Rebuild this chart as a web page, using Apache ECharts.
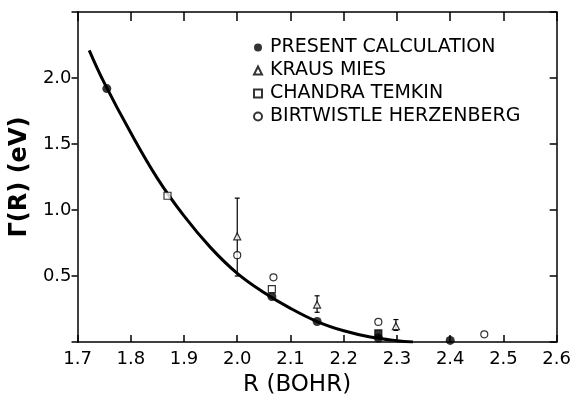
<!DOCTYPE html>
<html>
<head>
<meta charset="utf-8">
<script src="https://cdn.jsdelivr.net/npm/echarts@6/dist/echarts.min.js"></script>
<style>
  html, body { margin: 0; padding: 0; background: #fff; }
  #chart { width: 574px; height: 402px; }
</style>
</head>
<body>
<div id="chart"></div>
<script>
  // tick labels
  var xTickLabels = ['1.7', '1.8', '1.9', '2.0', '2.1', '2.2', '2.3', '2.4', '2.5', '2.6']
  var yTickLabels = ['0.5', '1.0', '1.5', '2.0']

  // data: [R, Gamma]
  var presentCalc = [[1.755, 1.92], [2.065, 0.345], [2.15, 0.155], [2.265, 0.03], [2.40, 0.012]]
  var krausMies = [[2.0, 0.80], [2.15, 0.283], [2.298, 0.12]]
  // error bars for Kraus Mies: [R, low, high]
  var krausErr = [[2.0, 0.50, 1.09], [2.15, 0.225, 0.35], [2.298, 0.088, 0.17]]
  var chandraTemkin = [[1.869, 1.108], [2.065, 0.40], [2.265, 0.065]]
  var birtwistle = [[2.0, 0.658], [2.068, 0.49], [2.265, 0.152], [2.464, 0.058]]
  // fitted curve
  var curve = [[1.722, 2.21], [1.75, 1.965], [1.80, 1.585], [1.85, 1.24], [1.90, 0.955],
    [1.95, 0.715], [2.00, 0.52], [2.05, 0.375], [2.10, 0.255], [2.15, 0.155],
    [2.20, 0.085], [2.25, 0.038], [2.30, 0.01], [2.33, 0.0]]

  var font = 'DejaVu Sans'
  var black = '#000'

  var chart = echarts.init(document.getElementById('chart'))

  // hollow marker style
  var hollow = { color: '#fff', borderColor: black, borderWidth: 1.2 }

  var sqData = chandraTemkin.map(function (p, i) {
    // the last square is drawn filled in the original
    if (i === chandraTemkin.length - 1) {
      return { value: p, itemStyle: { color: black, borderColor: black } }
    }
    return p
  })

  function frameLine () {
    return { show: true, onZero: false, lineStyle: { color: black, width: 1.5 } }
  }
  function ticks (inside, length) {
    return { show: true, inside: inside, length: length, lineStyle: { color: black, width: 1.5 } }
  }
  function noLabel () {
    return { show: true, formatter: function () { return '' } }
  }

  chart.setOption({
    backgroundColor: '#fff',
    animation: false,
    textStyle: { fontFamily: font, color: black },
    grid: { left: 76, right: 16, top: 12, bottom: 56 },
    legend: {
      orient: 'vertical',
      left: 248,
      top: 33,
      itemWidth: 8,
      itemHeight: 8,
      itemGap: 4,
      data: ['PRESENT CALCULATION', 'KRAUS MIES', 'CHANDRA TEMKIN', 'BIRTWISTLE HERZENBERG'],
      textStyle: { fontFamily: font, fontSize: 19, lineHeight: 19, color: black, padding: [0, 0, 0, 3] }
    },
    xAxis: [{
      type: 'value',
      min: 1.7,
      max: 2.6,
      interval: 0.1,
      name: 'R (BOHR)',
      nameLocation: 'middle',
      nameGap: 32,
      nameTextStyle: { fontFamily: font, fontSize: 23, color: black, padding: [0, 40, 0, 0] },
      axisLine: frameLine(),
      axisTick: ticks(true, 7),
      splitLine: { show: false },
      axisLabel: {
        margin: 8,
        fontFamily: font,
        fontSize: 18,
        color: black,
        showMinLabel: true,
        showMaxLabel: true,
        formatter: function (v) {
          var s = v.toFixed(1)
          return xTickLabels.indexOf(s) >= 0 ? s : ''
        }
      }
    }, {
      type: 'value',
      position: 'top',
      min: 1.7,
      max: 2.6,
      interval: 0.1,
      axisLine: frameLine(),
      axisTick: ticks(true, 9),
      axisLabel: noLabel(),
      splitLine: { show: false }
    }],
    yAxis: [{
      type: 'value',
      min: 0,
      max: 2.5,
      interval: 0.5,
      name: 'Γ(R) (eV)',
      nameLocation: 'middle',
      nameGap: 40,
      nameTextStyle: { fontFamily: font, fontSize: 24, fontWeight: 'bold', color: black },
      axisLine: frameLine(),
      axisTick: ticks(false, 6),
      splitLine: { show: false },
      axisLabel: {
        margin: 6,
        fontFamily: font,
        fontSize: 18,
        color: black,
        formatter: function (v) {
          var s = v.toFixed(1)
          return yTickLabels.indexOf(s) >= 0 ? s : ''
        }
      }
    }, {
      type: 'value',
      position: 'right',
      min: 0,
      max: 2.5,
      interval: 0.5,
      axisLine: frameLine(),
      axisTick: ticks(true, 7),
      axisLabel: noLabel(),
      splitLine: { show: false }
    }],
    series: [
      {
        name: 'curve',
        type: 'line',
        data: curve,
        smooth: 0.4,
        showSymbol: false,
        symbol: 'none',
        lineStyle: { color: black, width: 3 },
        z: 2
      },
      {
        name: 'error',
        type: 'custom',
        data: krausErr,
        encode: { x: 0, y: [1, 2] },
        z: 3,
        renderItem: function (params, api) {
          var x = api.value(0)
          var top = api.coord([x, api.value(2)])
          var bot = api.coord([x, api.value(1)])
          var w = 2.5
          var st = { stroke: black, lineWidth: 1.2 }
          return {
            type: 'group',
            children: [
              { type: 'line', shape: { x1: top[0], y1: top[1], x2: bot[0], y2: bot[1] }, style: st },
              { type: 'line', shape: { x1: top[0] - w, y1: top[1], x2: top[0] + w, y2: top[1] }, style: st },
              { type: 'line', shape: { x1: bot[0] - w, y1: bot[1], x2: bot[0] + w, y2: bot[1] }, style: st }
            ]
          }
        }
      },
      {
        name: 'PRESENT CALCULATION',
        type: 'scatter',
        data: presentCalc,
        symbol: 'circle',
        symbolSize: 9,
        itemStyle: { color: black },
        z: 5
      },
      {
        name: 'KRAUS MIES',
        type: 'scatter',
        data: krausMies,
        symbol: 'triangle',
        symbolSize: 7,
        itemStyle: hollow,
        z: 5
      },
      {
        name: 'CHANDRA TEMKIN',
        type: 'scatter',
        data: sqData,
        symbol: 'rect',
        symbolSize: 7,
        itemStyle: hollow,
        z: 5
      },
      {
        name: 'BIRTWISTLE HERZENBERG',
        type: 'scatter',
        data: birtwistle,
        symbol: 'circle',
        symbolSize: 7,
        itemStyle: hollow,
        z: 5
      }
    ]
  })
</script>
</body>
</html>
